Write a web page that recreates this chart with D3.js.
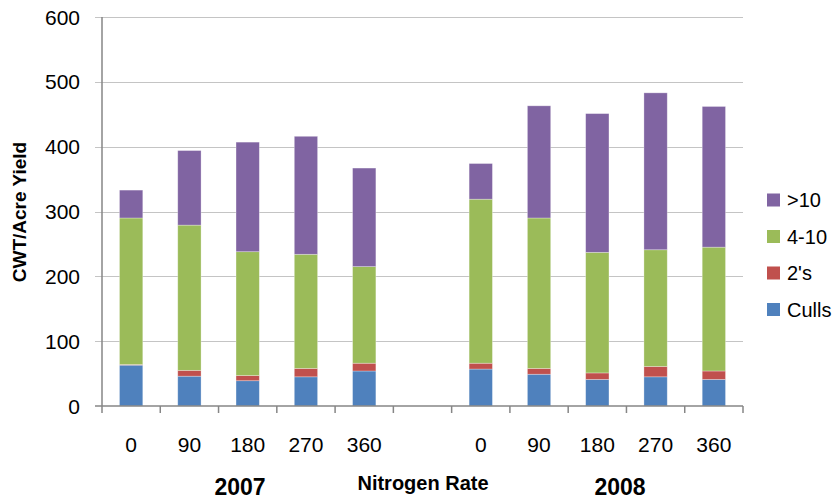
<!DOCTYPE html>
<html lang="en">
<head>
  <meta charset="UTF-8">
  <title>CWT/Acre Yield by Nitrogen Rate</title>
  <script src="https://d3js.org/d3.v7.min.js"></script>
  <style>
      body { margin: 0; background: #fff; }
      text { font-family: "Liberation Sans", Arial, sans-serif; fill: #000; }
      .grid line { stroke: #c4c4c4; stroke-width: 1px; }
      .axis path, .axis line { stroke: #868686; stroke-width: 1.5px; }
      .tick-label { font-size: 21px; }
      .title { font-size: 20px; font-weight: bold; }
      .ytitle { font-size: 19px; font-weight: bold; }
      .year { font-size: 23px; font-weight: bold; }
      .legend text { font-size: 20px; }
  </style>
</head>
<body>
<svg width="836" height="501"></svg>
<script>
  // data
  const years = ["2007", "2008"];
  const rates = ["0", "90", "180", "270", "360"];
  const seriesNames = ["Culls", "2's", "4-10", ">10"];
  const seriesColors = ["#4F81BD", "#C0504D", "#9BBB59", "#8064A2"];
  const culls = [63, 46, 39, 45, 54, 57, 49, 41, 45, 41];
  const twos = [1, 9, 8, 13, 12, 9, 9, 10, 16, 13];
  const mid = [226, 224, 191, 176, 149, 253, 232, 186, 180, 191];
  const big = [43, 115, 169, 182, 152, 55, 173, 214, 242, 217];
  const yTicks = [0, 100, 200, 300, 400, 500, 600];

  // 11 slots: 5 rates for 2007, an empty slot, 5 rates for 2008
  const slots = [];
  years.forEach((yr, yi) => {
    if (yi > 0) slots.push("gap");
    rates.forEach(r => slots.push(yr + "-" + r));
  });

  const rows = [];
  years.forEach((yr, yi) => {
    rates.forEach((r, ri) => {
      const i = yi * rates.length + ri;
      rows.push({slot: yr + "-" + r, rate: r, "Culls": culls[i], "2's": twos[i], "4-10": mid[i], ">10": big[i]});
    });
  });

  const svg = d3.select("svg");
  const plotLeft = 102, plotRight = 743, plotTop = 17, plotBottom = 406;

  const x = d3.scaleBand().domain(slots).range([plotLeft, plotRight]).paddingInner(0).paddingOuter(0);
  const y = d3.scaleLinear().domain([0, 600]).range([plotBottom, plotTop]);
  const color = d3.scaleOrdinal().domain(seriesNames).range(seriesColors);

  // gridlines
  svg.append("g")
  .attr("class", "grid")
  .selectAll("line")
  .data(yTicks.filter(d => d > 0))
  .enter().append("line")
  .attr("x1", plotLeft - 7)
  .attr("x2", plotRight)
  .attr("y1", d => Math.round(y(d)) + 0.5)
  .attr("y2", d => Math.round(y(d)) + 0.5);

  // stacked bars
  const stack = d3.stack().keys(seriesNames);
  const layers = stack(rows);
  const bw = x.bandwidth() * 0.4;

  svg.append("g")
  .selectAll("g")
  .data(layers)
  .enter().append("g")
  .attr("fill", d => color(d.key))
  .selectAll("rect")
  .data(d => d)
  .enter().append("rect")
  .attr("x", d => x(d.data.slot) + (x.bandwidth() - bw) / 2)
  .attr("width", bw)
  .attr("y", d => y(d[1]))
  .attr("height", d => y(d[0]) - y(d[1]))
  .attr("stroke", "#fff")
  .attr("stroke-opacity", 0.4)
  .attr("stroke-width", 0.75);

  // y axis
  const yAxis = svg.append("g").attr("class", "axis");
  yAxis.append("line")
  .attr("x1", plotLeft).attr("x2", plotLeft)
  .attr("y1", plotTop).attr("y2", plotBottom);
  yAxis.selectAll("text")
  .data(yTicks)
  .enter().append("text")
  .attr("class", "tick-label")
  .attr("x", 80)
  .attr("y", d => y(d))
  .attr("dy", "0.36em")
  .attr("text-anchor", "end")
  .text(d => d);

  // x axis with tick marks between bands
  const xAxis = svg.append("g").attr("class", "axis");
  xAxis.append("line")
  .attr("x1", plotLeft - 7).attr("x2", plotRight)
  .attr("y1", plotBottom).attr("y2", plotBottom);
  const bounds = slots.map(s => x(s)).concat([plotRight]);
  xAxis.selectAll("line.tk")
  .data(bounds)
  .enter().append("line")
  .attr("class", "tk")
  .attr("x1", d => d).attr("x2", d => d)
  .attr("y1", plotBottom).attr("y2", plotBottom + 7);

  svg.append("g")
  .selectAll("text")
  .data(rows)
  .enter().append("text")
  .attr("class", "tick-label")
  .attr("x", d => x(d.slot) + x.bandwidth() / 2)
  .attr("y", 452)
  .attr("text-anchor", "middle")
  .text(d => d.rate);

  // year labels and titles
  svg.append("text").attr("class", "year").attr("x", 240).attr("y", 495)
  .attr("text-anchor", "middle").text(years[0]);
  svg.append("text").attr("class", "year").attr("x", 620).attr("y", 495)
  .attr("text-anchor", "middle").text(years[1]);
  svg.append("text").attr("class", "title").attr("x", 423).attr("y", 490)
  .attr("text-anchor", "middle").text("Nitrogen Rate");
  svg.append("text").attr("class", "ytitle")
  .attr("transform", "translate(26,212) rotate(-90)")
  .attr("text-anchor", "middle").text("CWT/Acre Yield");

  // legend, top entry is the top of the stack
  const legend = svg.append("g").attr("class", "legend")
  .selectAll("g")
  .data(seriesNames.slice().reverse())
  .enter().append("g")
  .attr("transform", (d, i) => "translate(767," + (200 + i * 36.5) + ")");
  legend.append("rect")
  .attr("x", 0).attr("y", -6.5)
  .attr("width", 13).attr("height", 13)
  .attr("fill", d => color(d));
  legend.append("text")
  .attr("x", 20)
  .attr("dy", "0.36em")
  .text(d => d);
</script>
</body>
</html>
